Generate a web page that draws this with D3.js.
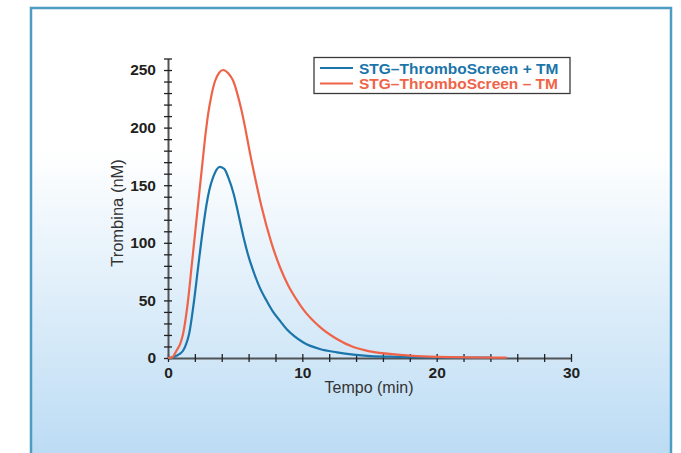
<!DOCTYPE html>
<html lang="it">
<head>
<meta charset="UTF-8">
<title>Trombina</title>
<script src="https://d3js.org/d3.v7.min.js"></script>
<style>
  html, body { margin: 0; padding: 0; background: #fff; }
  svg { display: block; font-family: "Liberation Sans", Arial, sans-serif; }
</style>
</head>
<body>
<div id="chart"></div>
<script>
// dati (tempo in min, trombina in nM)
var seriesNames = ["STG\u2013ThromboScreen + TM", "STG\u2013ThromboScreen \u2013 TM"];
var seriesColors = ["#1b75aa", "#ef6448"];

var tPlus = [0, 0.3, 0.63, 1.12, 1.35, 1.57, 1.94, 2.24, 2.6, 2.85, 3.06, 3.36, 3.86, 4.2, 4.48, 4.9, 5.2, 5.6, 6.0, 6.4, 6.8, 7.34, 7.8, 8.33, 8.84, 9.4, 10.08, 11.3, 12.57, 13.8, 15.05, 17.05, 20, 24.1];
var vPlus = [0, 0.3, 2, 6.3, 12, 20.8, 49.7, 78.6, 112, 132, 145, 157, 166, 164, 157, 142, 127, 106, 88, 74, 62, 49.7, 40.5, 32.4, 25, 19, 13.5, 7.8, 4.9, 2.9, 1.7, 1, 0.5, 0.3];

var tMinus = [0, 0.3, 0.63, 0.9, 1.12, 1.3, 1.49, 1.75, 2.05, 2.3, 2.57, 2.8, 2.99, 3.2, 3.49, 3.8, 4.1, 4.5, 4.85, 5.48, 6.22, 6.95, 7.7, 8.33, 8.95, 9.5, 10.08, 11.3, 12.57, 13.8, 15.05, 17.05, 20, 25.2];
var vMinus = [0, 0.5, 6.3, 12, 20.8, 33, 49.7, 78.6, 112, 140, 170, 195, 212, 226, 240, 247.5, 250, 247, 240.7, 214.6, 171, 132, 100, 79, 63, 52, 42, 27, 16.5, 9.5, 5.7, 2.9, 1, 0.4];

var xLabels = [0, 10, 20, 30];
var yLabels = [0, 50, 100, 150, 200, 250];

var width = 681, height = 453;

var svg = d3.select("#chart").append("svg")
    .attr("width", width)
    .attr("height", height);

// sfondo con sfumatura
var grad = svg.append("defs").append("linearGradient")
    .attr("id", "bg")
    .attr("gradientUnits", "userSpaceOnUse")
    .attr("x1", 0).attr("y1", 150)
    .attr("x2", 0).attr("y2", 453);
grad.append("stop").attr("offset", "0%").attr("stop-color", "#ffffff");
grad.append("stop").attr("offset", "100%").attr("stop-color", "#bcdcf4");

svg.append("rect")
    .attr("x", 31).attr("y", 8)
    .attr("width", 640).attr("height", 460)
    .attr("fill", "url(#bg)")
    .attr("stroke", "#4f9cc2")
    .attr("stroke-width", 2.5);

var x = d3.scaleLinear().domain([0, 30]).range([168, 571]);
var y = d3.scaleLinear().domain([0, 260]).range([358, 58.5]);

// asse x
var gx = svg.append("g").attr("transform", "translate(0," + y(0) + ")");
gx.call(d3.axisBottom(x).tickValues(d3.range(0, 31, 2)).tickFormat("").tickSize(4).tickSizeOuter(0));
gx.select(".domain").attr("stroke", "#505356").attr("stroke-width", 2);
gx.selectAll(".tick line").attr("y1", -4).attr("y2", 4).attr("stroke", "#222").attr("stroke-width", 1.3);

var gxl = svg.append("g").attr("transform", "translate(0," + y(0) + ")");
gxl.call(d3.axisBottom(x).tickValues(xLabels).tickSize(0).tickPadding(9));
gxl.select(".domain").remove();
gxl.selectAll("text")
    .attr("font-size", 15.5).attr("font-weight", "bold")
    .attr("font-family", "Liberation Sans, Arial, sans-serif")
    .attr("fill", "#231f20");

// asse y
var gy = svg.append("g").attr("transform", "translate(" + x(0) + ",0)");
gy.call(d3.axisLeft(y).tickValues(d3.range(0, 261, 10)).tickFormat("").tickSize(4).tickSizeOuter(0));
gy.select(".domain").attr("stroke", "#505356").attr("stroke-width", 2);
gy.selectAll(".tick line").attr("x1", -4).attr("x2", 4).attr("stroke", "#222").attr("stroke-width", 1.3);

var gyl = svg.append("g").attr("transform", "translate(" + x(0) + ",0)");
gyl.call(d3.axisLeft(y).tickValues(yLabels).tickSize(0).tickPadding(12));
gyl.select(".domain").remove();
gyl.selectAll("text")
    .attr("font-size", 15.5).attr("font-weight", "bold")
    .attr("font-family", "Liberation Sans, Arial, sans-serif")
    .attr("fill", "#231f20");

// titoli assi
svg.append("text")
    .attr("transform", "translate(123,213) rotate(-90)")
    .attr("text-anchor", "middle")
    .attr("font-size", 16.5)
    .attr("fill", "#333")
    .text("Trombina (nM)");

svg.append("text")
    .attr("x", 369).attr("y", 393)
    .attr("text-anchor", "middle")
    .attr("font-size", 16)
    .attr("fill", "#333")
    .text("Tempo (min)");

// curve
var line = d3.line()
    .x(function (d) { return x(d[0]); })
    .y(function (d) { return y(d[1]); })
    .curve(d3.curveMonotoneX);

var series = [d3.zip(tPlus, vPlus), d3.zip(tMinus, vMinus)];

svg.selectAll(".curve")
    .data(series)
    .enter().append("path")
    .attr("class", "curve")
    .attr("d", line)
    .attr("fill", "none")
    .attr("stroke", function (d, i) { return seriesColors[i]; })
    .attr("stroke-width", 2.2);

// legenda
var lg = svg.append("g");
lg.append("rect")
    .attr("x", 314).attr("y", 57.5)
    .attr("width", 256).attr("height", 36)
    .attr("fill", "#fff")
    .attr("stroke", "#3a3a3a")
    .attr("stroke-width", 1.3);

seriesNames.forEach(function (name, i) {
    var yy = 68 + i * 15.5;
    lg.append("line")
        .attr("x1", 320).attr("x2", 353)
        .attr("y1", yy).attr("y2", yy)
        .attr("stroke", seriesColors[i])
        .attr("stroke-width", 2);
    lg.append("text")
        .attr("x", 359).attr("y", yy + 5.5)
        .attr("font-size", 15.5)
        .attr("font-weight", "bold")
        .attr("fill", seriesColors[i])
        .text(name);
});
</script>
</body>
</html>
